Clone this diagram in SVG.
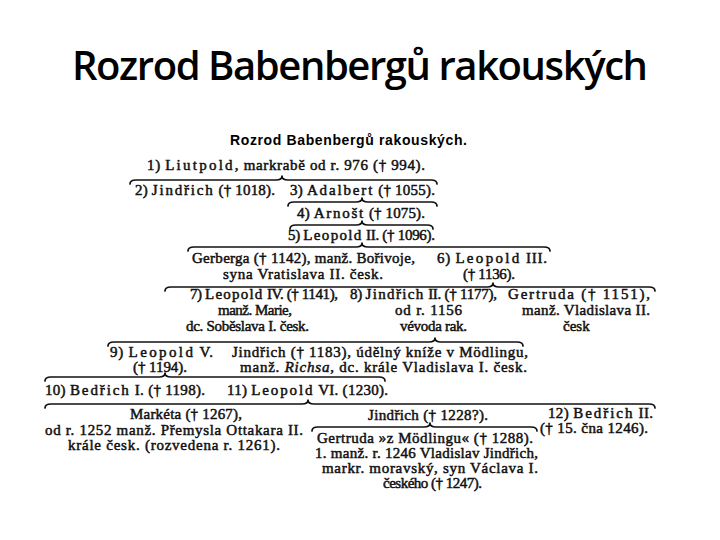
<svg xmlns="http://www.w3.org/2000/svg" width="720" height="540" viewBox="0 0 720 540">
<style>
.title{font-family:"Open Sans","Noto Sans",sans-serif;font-weight:600;font-size:40px;fill:#000}
.hdr{font-family:"Liberation Sans",Arial,sans-serif;font-weight:bold;font-size:14px;fill:#000}
.t{font-family:"Liberation Serif","DejaVu Serif",serif;font-size:15px;fill:#111;stroke:#111;stroke-width:0.5}
.sp{letter-spacing:1.6px}
.br{fill:none;stroke:#111;stroke-width:1.7;stroke-linecap:round;stroke-linejoin:round}
</style>
<rect width="720" height="540" fill="#fff"/>
<text class="title" x="72" y="80" textLength="576">Rozrod Babenbergů rakouských</text>
<text class="hdr" x="230" y="145" textLength="237">Rozrod Babenbergů rakouských.</text>

<g id="connectors">
<path class="br" d="M130,184 Q130,180 136,180 L276,180 Q282,180 282,176 Q282,180 288,180 L431,180 Q437,180 437,184"/>
<path class="br" d="M288,206 Q288,202 294,202 L356,202 Q362,202 362,198 Q362,202 368,202 L431,202 Q437,202 437,206"/>
<path class="br" d="M290,229 Q290,225 296,225 L356,225 Q362,225 362,221 Q362,225 368,225 L427,225 Q433,225 433,229"/>
<path class="br" d="M188,251 Q188,247 194,247 L356,247 Q362,247 362,243 Q362,247 368,247 L544,247 Q550,247 550,251"/>
<path class="br" d="M165,291 Q165,287 171,287 L487,287 Q493,287 493,283 Q493,287 499,287 L649,287 Q655,287 655,291"/>
<path class="br" d="M108,346 Q108,342 114,342 L429,342 Q435,342 435,338 Q435,342 441,342 L517,342 Q523,342 523,346"/>
<path class="br" d="M45,381 Q45,377 51,377 L159,377 Q165,377 165,373 Q165,377 171,377 L379,377 Q385,377 385,381"/>
<path class="br" d="M45,408 Q45,404 51,404 L302,404 Q308,404 308,400 Q308,404 314,404 L649,404 Q655,404 655,408"/>
<path class="br" d="M312,431 Q312,427 318,427 L424,427 Q430,427 430,423 Q430,427 436,427 L531,427 Q537,427 537,431"/>
</g>

<g id="n1"><text class="t" x="147" y="170" textLength="278">1) <tspan class="sp">Liutpold</tspan>, markrabě od r. 976 († 994).</text></g>
<g id="n2"><text class="t" x="135" y="195" textLength="140">2) <tspan class="sp">Jindřich</tspan> († 1018).</text></g>
<g id="n3"><text class="t" x="290" y="195" textLength="145">3) <tspan class="sp">Adalbert</tspan> († 1055).</text></g>
<g id="n4"><text class="t" x="297" y="218" textLength="128">4) <tspan class="sp">Arnošt</tspan> († 1075).</text></g>
<g id="n5"><text class="t" x="288" y="240" textLength="147">5) <tspan class="sp">Leopold</tspan> II. († 1096).</text></g>
<g id="gerberga"><text class="t"><tspan x="192" y="263" textLength="223">Gerberga († 1142), manž. Bořivoje,</tspan><tspan x="223" y="279" textLength="160">syna Vratislava II. česk.</tspan></text></g>
<g id="n6"><text class="t"><tspan x="437" y="263" textLength="110">6) <tspan class="sp">Leopold</tspan> III.</tspan><tspan x="463" y="279" textLength="52">(† 1136).</tspan></text></g>
<g id="n7"><text class="t"><tspan x="190" y="299" textLength="148">7) <tspan class="sp">Leopold</tspan> IV. († 1141),</tspan><tspan x="218" y="315" textLength="74">manž. Marie,</tspan><tspan x="186" y="331" textLength="123">dc. Soběslava I. česk.</tspan></text></g>
<g id="n8"><text class="t"><tspan x="350" y="299" textLength="147">8) <tspan class="sp">Jindřich</tspan> II. († 1177),</tspan><tspan x="395" y="315" textLength="67">od r. 1156</tspan><tspan x="400" y="331" textLength="67">vévoda rak.</tspan></text></g>
<g id="gertruda1"><text class="t"><tspan x="508" y="299" textLength="142">Gertruda († 1151),</tspan><tspan x="522" y="315" textLength="128">manž. Vladislava II.</tspan><tspan x="563" y="331">česk</tspan></text></g>
<g id="n9"><text class="t"><tspan x="110" y="357" textLength="103">9) <tspan class="sp">Leopold</tspan> V.</tspan><tspan x="133" y="372" textLength="54">(† 1194).</tspan></text></g>
<g id="jindrich1183"><text class="t"><tspan x="232" y="357" textLength="296">Jindřich († 1183), údělný kníže v Mödlingu,</tspan><tspan x="240" y="372" textLength="287">manž. <tspan font-style="italic">Richsa</tspan>, dc. krále Vladislava I. česk.</tspan></text></g>
<g id="n10"><text class="t" x="45" y="395" textLength="160">10) <tspan class="sp">Bedřich</tspan> I. († 1198).</text></g>
<g id="n11"><text class="t" x="227" y="395" textLength="161">11) <tspan class="sp">Leopold</tspan> VI. (1230).</text></g>
<g id="marketa"><text class="t"><tspan x="130" y="419" textLength="112">Markéta († 1267),</tspan><tspan x="45" y="435" textLength="258">od r. 1252 manž. Přemysla Ottakara II.</tspan><tspan x="68" y="450" textLength="212">krále česk. (rozvedena r. 1261).</tspan></text></g>
<g id="jindrich1228"><text class="t" x="368" y="420" textLength="120">Jindřich († 1228?).</text></g>
<g id="n12"><text class="t"><tspan x="548" y="418" textLength="105">12) <tspan class="sp">Bedřich</tspan> II.</tspan><tspan x="540" y="433" textLength="108">(† 15. čna 1246).</tspan></text></g>
<g id="gertruda2"><text class="t"><tspan x="317" y="443" textLength="216">Gertruda »z Mödlingu« († 1288).</tspan><tspan x="315" y="458" textLength="223">1. manž. r. 1246 Vladislav Jindřich,</tspan><tspan x="322" y="473" textLength="216">markr. moravský, syn Václava I.</tspan><tspan x="383" y="488" textLength="99">českého († 1247).</tspan></text></g>
</svg>
